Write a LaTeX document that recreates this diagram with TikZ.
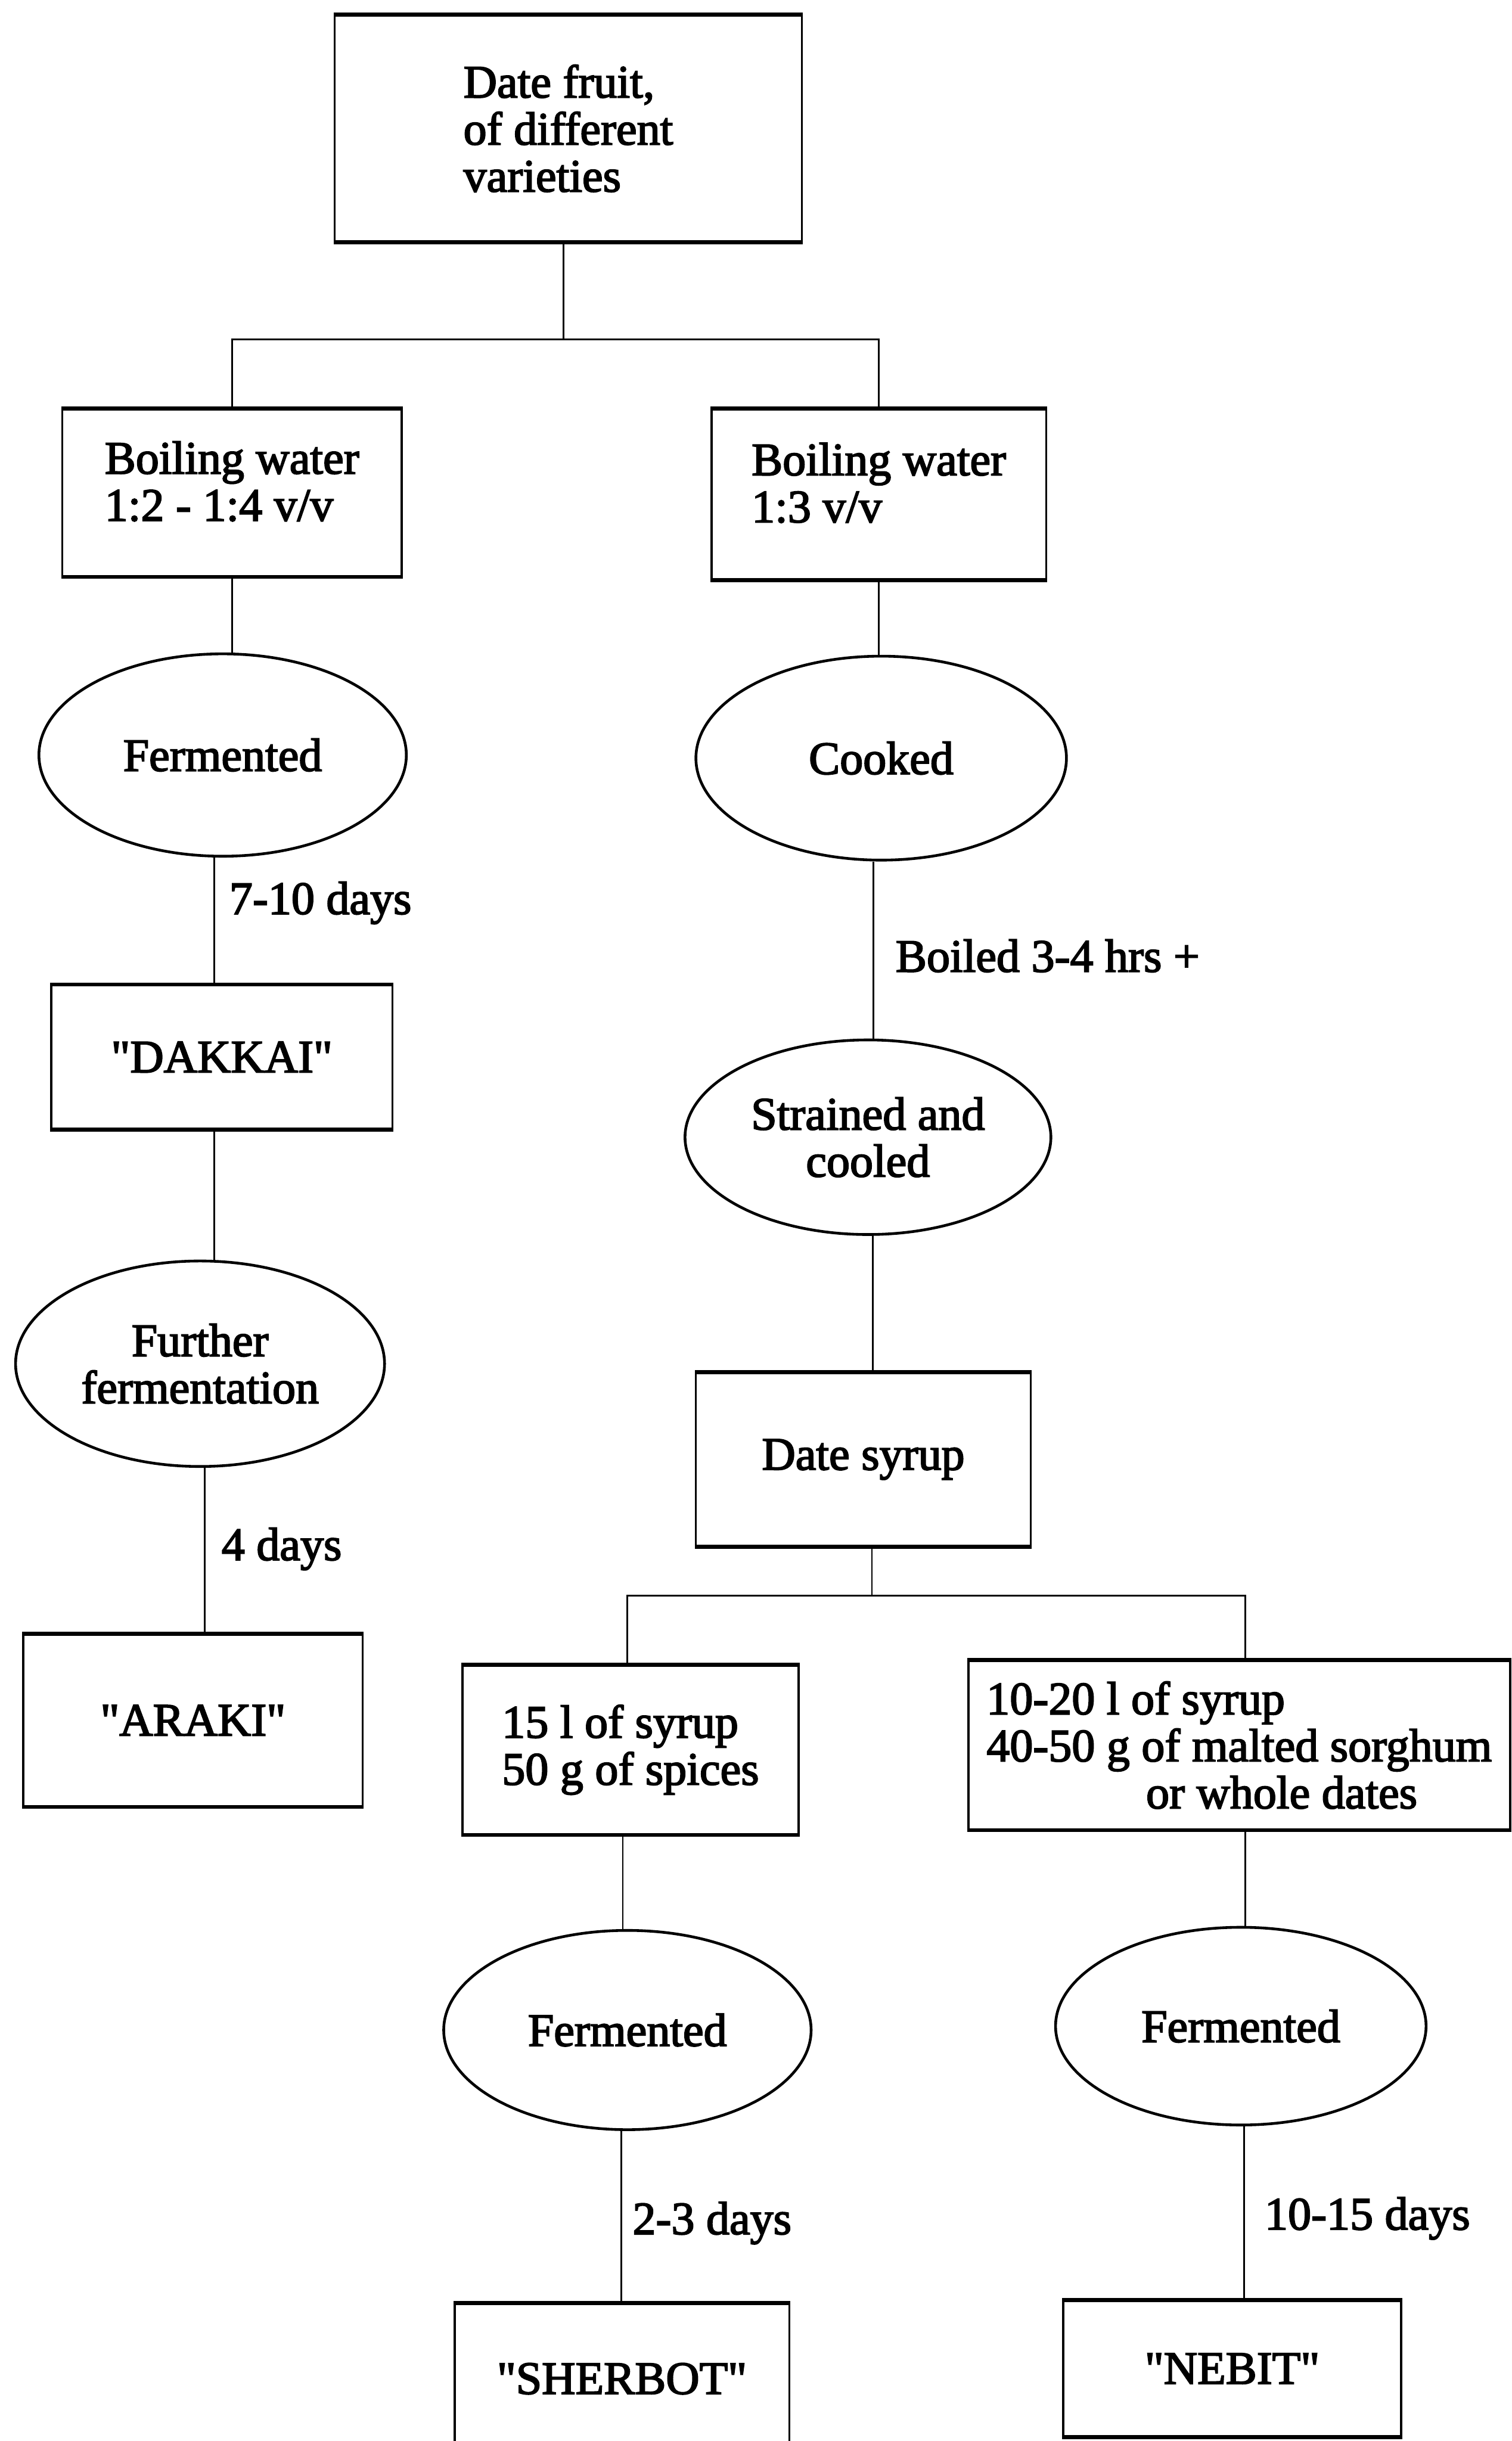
\documentclass[tikz,border=0pt]{standalone}
\usepackage{fontspec}
\setmainfont{Liberation Serif}[Ligatures=TeXOff, RawFeature={embolden=2.6}]
\usetikzlibrary{shapes.geometric}

\begin{document}
\begin{tikzpicture}[x=0.02cm, y=-0.02cm,
  every node/.style={font=\fontsize{17}{17.2}\selectfont, inner sep=0pt},
  box/.style={rectangle, draw, line width=0.75pt, align=left},
  oval/.style={ellipse, draw, line width=1pt, align=center},
  lbl/.style={anchor=west},
  link/.style={line width=0.6pt}]

\useasboundingbox (0,0) rectangle (971,1568);
\fill[white] (0,0) rectangle (971,1568);

% --- nodes of the flow chart ---
\node[box, minimum width=300*0.02cm, minimum height=145*0.02cm] (top) at (365,82.5)
  {Date fruit,\\of different\\varieties};

\node[box, minimum width=218*0.02cm, minimum height=107*0.02cm, text depth=0.3cm] (bwL) at (149,316.5)
  {Boiling water\\1:2 - 1:4 v/v};
\node[box, minimum width=215*0.02cm, minimum height=109*0.02cm, text depth=0.3cm] (bwR) at (564.5,317.5)
  {Boiling water\\1:3 v/v};

\node[oval, minimum width=236*0.02cm, minimum height=130*0.02cm] (fermL) at (143,485) {Fermented};
\node[oval, minimum width=238*0.02cm, minimum height=131*0.02cm] (cooked) at (566,487) {Cooked};

\node[box, minimum width=219*0.02cm, minimum height=92*0.02cm] (dakkai) at (142.5,679) {"DAKKAI"};
\node[oval, minimum width=235*0.02cm, minimum height=125*0.02cm] (strained) at (557.5,730.5)
  {Strained and\\cooled};

\node[oval, minimum width=237*0.02cm, minimum height=132*0.02cm] (further) at (128.5,876)
  {Further\\fermentation};
\node[box, minimum width=215*0.02cm, minimum height=111*0.02cm] (syrup) at (554.5,937.5) {Date syrup};

\node[box, minimum width=218*0.02cm, minimum height=110*0.02cm] (araki) at (124,1105) {"ARAKI"};

\node[box, minimum width=216*0.02cm, minimum height=108*0.02cm] (spice) at (405,1124)
  {15 l of syrup\\50 g of spices};
\node[box, minimum width=348*0.02cm, minimum height=108*0.02cm] (sorghum) at (796,1121)
  {10-20 l of syrup\\40-50 g of malted sorghum\\\hspace*{2.05cm}or whole dates};

\node[oval, minimum width=236*0.02cm, minimum height=128*0.02cm] (fermS) at (403,1304) {Fermented};
\node[oval, minimum width=238*0.02cm, minimum height=127*0.02cm] (fermN) at (797,1301.5) {Fermented};

\node[box, minimum width=215*0.02cm, minimum height=96*0.02cm] (sherbot) at (399.5,1528) {"SHERBOT"};
\node[box, minimum width=217*0.02cm, minimum height=87*0.02cm] (nebit) at (791.5,1521.5) {"NEBIT"};

% heavier top and bottom rules of the boxes
\foreach \n in {top,bwL,bwR,dakkai,araki,syrup,spice,sorghum,sherbot,nebit}
  \draw[line width=1.4pt] (\n.north west) -- (\n.north east)
                          (\n.south west) -- (\n.south east);

% --- branch points ---
\coordinate (j1) at (362,218);
\coordinate (j2) at (560,1025);

% --- connectors ---
\draw[link] (top.south -| j1) -- (j1);
\draw[link] (bwL.north) |- (j1) -| (bwR.north);

\draw[link] (bwL.south) -- (bwL.south |- fermL.north);
\draw[link] (fermL.south -| dakkai.north) ++(-5,0) coordinate (f1) -- (f1 |- dakkai.north);
\draw[link] (dakkai.south) ++(-5,0) coordinate (d1) -- (d1 |- further.north);
\draw[link] (further.south) ++(3,0) coordinate (r1) -- (r1 |- araki.north);

\draw[link] (bwR.south) -- (bwR.south |- cooked.north);
\draw[link] (cooked.south) ++(-5,0) coordinate (c1) -- (c1 |- strained.north);
\draw[link] (strained.south) ++(3,0) coordinate (s1) -- (s1 |- syrup.north);
\draw[link] (syrup.south -| j2) -- (j2);
\draw[link] (spice.north) ++(-2,0) coordinate (p1) |- (j2);
\draw[link] (j2) -| ([xshift=4*0.02cm]sorghum.north);

\draw[link] (spice.south) ++(-5,0) coordinate (p2) -- (p2 |- fermS.north);
\draw[link] (sorghum.south) ++(4,0) coordinate (g2) -- (g2 |- fermN.north);
\draw[link] (fermS.south) ++(-4,0) coordinate (e1) -- (e1 |- sherbot.north);
\draw[link] (fermN.south) ++(2,0) coordinate (e2) -- (e2 |- nebit.north);

% --- connector labels ---
\node[lbl] (t710) at (147,580) {7-10 days};
\node[lbl] (tboil) at (575,614) {Boiled 3-4 hrs +};
\node[lbl] (t4) at (142,995) {4 days};
\node[lbl] (t23) at (406,1428) {2-3 days};
\node[lbl] (t1015) at (812,1425) {10-15 days};

\end{tikzpicture}
\end{document}
